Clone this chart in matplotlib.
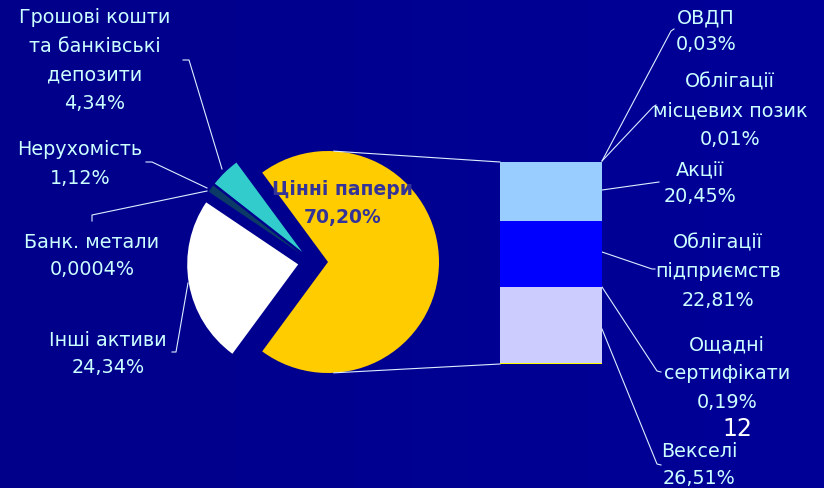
import numpy as np
import matplotlib
matplotlib.use("Agg")
import matplotlib.pyplot as plt
from matplotlib.colors import LinearSegmentedColormap

# ---------------- data ----------------
pie_labels = ["Цінні папери", "Грошові кошти\nта банківські\nдепозити", "Нерухомість",
              "Банк. метали", "Інші активи"]
pie_values = [70.20, 4.34, 1.12, 0.0004, 24.34]
pie_value_text = ["70,20%", "4,34%", "1,12%", "0,0004%", "24,34%"]
pie_colors = ["#FFCC00", "#33CCCC", "#0B3A66", "#336699", "#FFFFFF"]

bar_labels = ["Ощадні\nсертифікати", "Векселі", "Облігації\nпідприємств", "Акції",
              "Облігації\nмісцевих позик", "ОВДП"]
bar_values = [0.19, 26.51, 22.81, 20.45, 0.01, 0.03]
bar_value_text = ["0,19%", "26,51%", "22,81%", "20,45%", "0,01%", "0,03%"]
bar_colors = ["#FFFF00", "#CCCCFF", "#0000FF", "#99CCFF", "#6666FF", "#3366FF"]

page_number = "12"

# ---------------- layout ----------------
W, H = 824, 489
TXT = "#CCFFFF"
LINE = "#DDEEFF"
FONT = "DejaVu Sans"
FS = 13.8

def Y(y):
    return H - y

fig = plt.figure(figsize=(W / 100, H / 100), dpi=100)

# background gradient
axbg = fig.add_axes([0, 0, 1, 1])
cmap = LinearSegmentedColormap.from_list("bg", ["#00008A", "#000098"])
axbg.imshow(np.linspace(0, 1, 256)[None, :], aspect="auto", cmap=cmap,
            extent=[0, 1, 0, 1])
axbg.set_axis_off()

ax = fig.add_axes([0, 0, 1, 1])
ax.patch.set_alpha(0)

# pie
total = sum(pie_values)
start = -pie_values[0] / total * 180.0
R = 111
center = (312, Y(263))
wedges, _ = ax.pie(pie_values, colors=pie_colors, startangle=start, counterclock=True,
                   radius=R, center=center, explode=[16, 14, 14, 14, 14],
                   wedgeprops=dict(linewidth=0))
ax.set_xlim(0, W)
ax.set_ylim(0, H)
ax.set_aspect("auto")
ax.set_axis_off()

# center label of the main slice
ax.text(343, Y(190), pie_labels[0], color="#333399", fontsize=13.5, fontweight="bold",
        family=FONT, ha="center", va="center")
ax.text(343, Y(218), pie_value_text[0], color="#333399", fontsize=13.5, fontweight="bold",
        family=FONT, ha="center", va="center")

# bar of the "other" slice
bx0, bx1, by_top, by_bot = 500, 602, 163, 365
axb = fig.add_axes([bx0 / W, (H - by_bot) / H, (bx1 - bx0) / W, (by_bot - by_top) / H])
bottoms = np.concatenate([[0], np.cumsum(bar_values)[:-1]])
for v, b, c in zip(bar_values, bottoms, bar_colors):
    lw = 1.5 if c == "#FFFF00" else 0
    axb.bar(0, v, bottom=b, width=1, color=c, edgecolor=c, linewidth=lw)
axb.set_xlim(-0.5, 0.5)
axb.set_ylim(0, sum(bar_values))
axb.set_axis_off()
axb.patch.set_alpha(0)

# connector lines pie -> bar
cx, cy = wedges[0].center
for ang, yb in [(87, by_top), (-87, by_bot)]:
    px = cx + R * np.cos(np.radians(ang))
    py = cy + R * np.sin(np.radians(ang))
    ax.plot([px, bx0], [py, Y(yb)], color=LINE, lw=0.8)

# labels
def label(x, y0, name, val, step=29):
    lines = name.split("\n") + [val]
    for i, s in enumerate(lines):
        ax.text(x, Y(y0 + i * step), s, color=TXT, fontsize=FS, family=FONT,
                ha="center", va="center")

def leader(pts):
    xs = [p[0] for p in pts]
    ys = [Y(p[1]) for p in pts]
    ax.plot(xs, ys, color=LINE, lw=0.8)

# pie labels
label(95, 18, pie_labels[1], pie_value_text[1], step=28.5)
label(80, 150, pie_labels[2], pie_value_text[2])
label(92, 243, pie_labels[3], pie_value_text[3], step=27)
label(108, 341, pie_labels[4], pie_value_text[4], step=27)
leader([(183, 61), (189, 61), (222, 170)])
leader([(146, 163), (152, 163), (207, 189)])
leader([(92, 222), (92, 216), (207, 192)])
leader([(172, 353), (176, 353), (188, 284)])

# bar labels
label(727, 345, bar_labels[0], bar_value_text[0])
label(699, 452, bar_labels[1], bar_value_text[1], step=27)
label(718, 243, bar_labels[2], bar_value_text[2])
label(700, 170, bar_labels[3], bar_value_text[3], step=27)
label(730, 82, bar_labels[4], bar_value_text[4])
label(706, 18, bar_labels[5], bar_value_text[5], step=27)
leader([(674, 30), (671, 32), (602, 162)])
leader([(656, 106), (653, 108), (602, 162)])
leader([(659, 183), (602, 191)])
leader([(655, 270), (652, 270), (602, 253)])
leader([(661, 373), (657, 372), (602, 288)])
leader([(661, 466), (657, 465), (602, 330)])

# page number
ax.text(737, Y(429), page_number, color="white", fontsize=17, family=FONT,
        ha="center", va="center")

fig.savefig("out.png", dpi=100, facecolor="#000090")
